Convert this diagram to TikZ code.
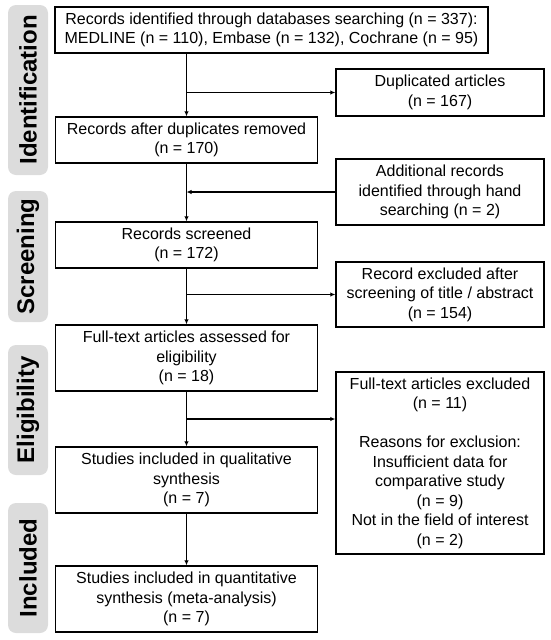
\documentclass[tikz,border=0pt]{standalone}
\usepackage{fontspec}
\setmainfont{Liberation Sans}
\usepackage{tikz}
\usetikzlibrary{arrows.meta}
\definecolor{phasegray}{HTML}{DCDCDC}
\tikzset{every edge/.style={draw, line width=1.4pt, -{Latex[length=5pt,width=4.5pt]}},
  box/.style={draw, line width=1.4pt, align=center, inner sep=0pt, font=\fontsize{16}{19.5}\selectfont},
  phase/.style={fill=phasegray, rounded corners=8pt, rotate=90, inner sep=0pt, minimum height=40pt, font=\fontsize{24}{28}\selectfont\bfseries}}

\begin{document}
\begin{tikzpicture}[x=1pt, y=1pt]
    \path[use as bounding box] (0, 0) rectangle (550, -640);

    \node[phase, minimum width=170pt] at (28, -90) (ident) {Identification};
    \node[phase, minimum width=131pt] at (28, -256.5) (screen) {Screening};
    \node[phase, minimum width=130pt] at (28, -410) (elig) {Eligibility};
    \node[phase, minimum width=130pt] at (28, -568) (incl) {Included};

    \node[box, minimum width=433pt, minimum height=46pt] at (271.5, -30) (found) {Records identified through databases searching (n = 337):\\MEDLINE (n = 110), Embase (n = 132), Cochrane (n = 95)};
    \node[box, minimum width=262pt, minimum height=46pt] at (186.5, -140) (dedup) {Records after duplicates removed\\(n = 170)};
    \node[box, minimum width=262pt, minimum height=46pt] at (186.5, -245) (screened) {Records screened\\(n = 172)};
    \node[box, minimum width=262pt, minimum height=66pt] at (186.5, -358) (fulltext) {Full-text articles assessed for\\eligibility\\(n = 18)};
    \node[box, minimum width=262pt, minimum height=66pt] at (186.5, -480) (qual) {Studies included in qualitative\\synthesis\\(n = 7)};
    \node[box, minimum width=262pt, minimum height=66pt] at (186.5, -599) (quant) {Studies included in quantitative\\synthesis (meta-analysis)\\(n = 7)};

    \node[box, minimum width=208pt, minimum height=47pt] at (440, -92.5) (dupl) {Duplicated articles\\(n = 167)};
    \node[box, minimum width=208pt, minimum height=66pt] at (440, -192) (hand) {Additional records\\identified through hand\\searching (n = 2)};
    \node[box, minimum width=208pt, minimum height=65pt] at (440, -294.5) (excl) {Record excluded after\\screening of title / abstract\\(n = 154)};
    \node[box, minimum width=208pt, minimum height=182pt] at (440, -463) (ftexcl) {Full-text articles excluded\\(n = 11)\\[19.5pt]Reasons for exclusion:\\Insufficient data for\\comparative study\\(n = 9)\\Not in the field of interest\\(n = 2)};

    \coordinate (c1) at (dupl.west -| dedup);
    \coordinate (c2) at (hand.west -| dedup);
    \coordinate (c3) at (excl.west -| dedup);
    \coordinate (c4) at (186.5, -419);

    \draw (found.south -| dedup) edge (dedup);
    \draw (dedup) edge (screened);
    \draw (screened) edge (fulltext);
    \draw (fulltext) edge (qual);
    \draw (qual) edge (quant);

    \draw (c1) edge (dupl);
    \draw (hand) edge (c2);
    \draw (c3) edge (excl);
    \draw (c4) edge (c4 -| ftexcl.west);
\end{tikzpicture}
\end{document}
